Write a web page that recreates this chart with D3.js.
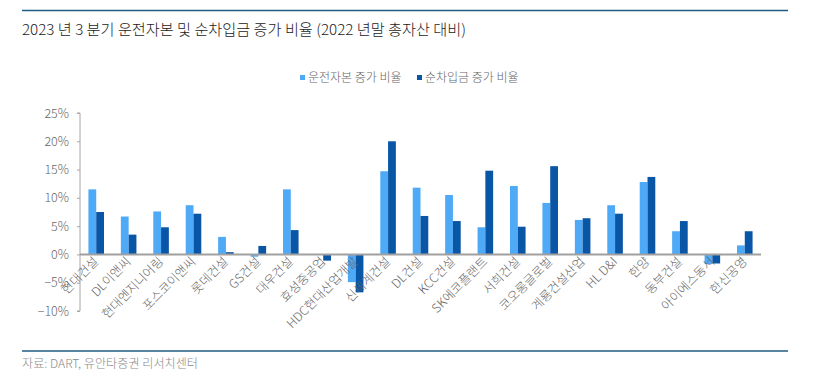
<!DOCTYPE html>
<meta charset="utf-8">
<script src="https://d3js.org/d3.v7.min.js"></script>
<style>
  body { margin: 0; background: #fff; }
  text { font-family: "Liberation Sans Narrow", "Noto Sans CJK KR", sans-serif; font-weight: 300; }
</style>
<div id="chart"></div>
<script>
// data
var companies = ["현대건설", "DL이앤씨", "현대엔지니어링", "포스코이앤씨", "롯데건설", "GS건설", "대우건설",
  "효성중공업", "HDC현대산업개발", "신세계건설", "DL건설", "KCC건설", "SK에코플랜트", "서희건설",
  "코오롱글로벌", "계룡건설산업", "HL D&I", "한양", "동부건설", "아이에스동서", "한신공영"];
var workingCapital = [11.5, 6.7, 7.6, 8.7, 3.1, -0.4, 11.5, 0, -4.9, 14.7, 11.8, 10.5, 4.8, 12.1, 9.1, 6.1, 8.7, 12.8, 4.1, -1.7, 1.6];
var netDebt = [7.5, 3.5, 4.8, 7.2, 0.4, 1.5, 4.3, -1.1, -6.7, 20.0, 6.8, 5.9, 14.8, 4.9, 15.6, 6.4, 7.2, 13.7, 5.9, -1.6, 4.1];
var seriesNames = ["운전자본 증가 비율", "순차입금 증가 비율"];
var yTicks = [-10, -5, 0, 5, 10, 15, 20, 25];

var colors = ["#4EA9F7", "#0A56A6"];
var W = 827, H = 378;

var svg = d3.select("#chart").append("svg")
  .attr("width", W).attr("height", H);

// frame lines
svg.append("line").attr("x1", 22).attr("x2", 788).attr("y1", 10.5).attr("y2", 10.5)
  .attr("stroke", "#1f5b80").attr("stroke-width", 1.5);
svg.append("line").attr("x1", 22).attr("x2", 788).attr("y1", 351).attr("y2", 351)
  .attr("stroke", "#1f5b80").attr("stroke-width", 1.5);

// title
svg.append("text").attr("x", 22).attr("y", 35)
  .attr("font-size", 15).attr("fill", "#1a1a1a").attr("font-weight", 400)
  .attr("textLength", 444).attr("lengthAdjust", "spacingAndGlyphs")
  .text("2023 년 3 분기 운전자본 및 순차입금 증가 비율 (2022 년말 총자산 대비)");

// footer
svg.append("text").attr("x", 22).attr("y", 368)
  .attr("font-size", 12).attr("fill", "#8a8a8a")
  .attr("textLength", 176).attr("lengthAdjust", "spacingAndGlyphs")
  .text("자료: DART, 유안타증권 리서치센터");

// scales
var x = d3.scaleBand().domain(companies).range([80, 761]).paddingInner(0.52).paddingOuter(0.26);
var xs = d3.scaleBand().domain([0, 1]).range([0, x.bandwidth()]);
var y = d3.scaleLinear().domain([-10, 25]).range([311, 113]);

// y axis
var yAxis = svg.append("g").attr("transform", "translate(80,0)")
  .call(d3.axisLeft(y).tickValues(yTicks).tickSize(3).tickPadding(8)
    .tickFormat(function(d) { return (d < 0 ? "\u2212" : "") + Math.abs(d) + "%"; }));
yAxis.selectAll("path, line").attr("stroke", "#a6a6a6");
yAxis.selectAll("text").attr("font-size", 12.5).attr("fill", "#666")
  .attr("font-family", "Liberation Sans, sans-serif");
yAxis.select(".domain").attr("d", "M-3," + y(-10) + "H0V" + y(25) + "H-3");

// bars
var rows = companies.map(function(c, i) { return {c: c, v: [workingCapital[i], netDebt[i]]}; });
var groups = svg.selectAll(".grp").data(rows).enter().append("g")
  .attr("transform", function(d) { return "translate(" + x(d.c) + ",0)"; });
groups.selectAll("rect").data(function(d) { return d.v; }).enter().append("rect")
  .attr("x", function(d, i) { return xs(i); })
  .attr("width", xs.bandwidth())
  .attr("y", function(d) { return y(Math.max(0, d)); })
  .attr("height", function(d) { return Math.abs(y(d) - y(0)); })
  .attr("fill", function(d, i) { return colors[i]; });

// zero line
svg.append("line").attr("x1", 80).attr("x2", 761).attr("y1", y(0)).attr("y2", y(0))
  .attr("stroke", "#a0a0a0").attr("stroke-width", 2);

// x labels
svg.selectAll(".xl").data(companies).enter().append("text")
  .attr("transform", function(d) {
    return "translate(" + (x(d) + x.bandwidth() / 2 + 3) + "," + (y(0) + 8) + ") rotate(-45)";
  })
  .attr("text-anchor", "end")
  .attr("font-size", 12.5).attr("fill", "#666")
  .text(function(d) { return d; });

// legend
var legX = [300, 417];
seriesNames.forEach(function(n, i) {
  svg.append("rect").attr("x", legX[i]).attr("y", 75).attr("width", 5).attr("height", 5).attr("fill", colors[i]);
  svg.append("text").attr("x", legX[i] + 8).attr("y", 82)
    .attr("font-size", 12).attr("fill", "#666").text(n);
});
</script>
